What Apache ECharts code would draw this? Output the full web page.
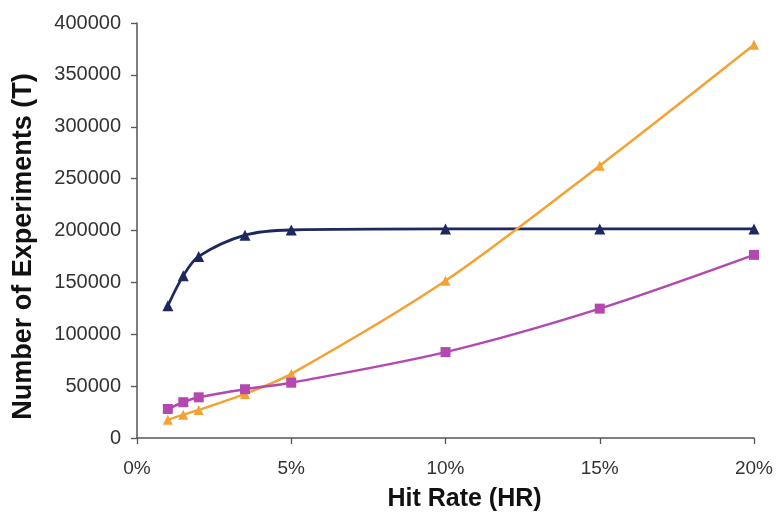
<!DOCTYPE html>
<html>
<head>
<meta charset="utf-8">
<script src="https://cdn.jsdelivr.net/npm/echarts@6/dist/echarts.min.js"></script>
<style>html,body{margin:0;padding:0;background:#fff;}#c{width:778px;height:516px;}</style>
</head>
<body>
<div id="c"></div>
<script>
const hitRates = [1, 1.5, 2, 3.5, 5, 10, 15, 20];
const navySeries = [127500, 156500, 175000, 195500, 200500, 201500, 201500, 201500];
const orangeSeries = [17500, 22500, 27000, 42500, 61800, 151500, 262500, 379000];
const magentaSeries = [28000, 34500, 39200, 47000, 53300, 82800, 124700, 176500];
const yTicks = [0, 50000, 100000, 150000, 200000, 250000, 300000, 350000, 400000];
const xTicks = [0, 5, 10, 15, 20];

const pairs = v => hitRates.map((x, i) => [x, v[i]]);
const chart = echarts.init(document.getElementById('c'));
const font = 'Liberation Sans, Arial, sans-serif';
chart.setOption({
  animation: false,
  grid: {left: 137, right: 24, top: 23, bottom: 78, containLabel: false, outerBoundsMode: 'none'},
  xAxis: {
    type: 'value', min: xTicks[0], max: xTicks[xTicks.length - 1], interval: 5,
    name: 'Hit Rate (HR)', nameLocation: 'middle', nameGap: 49,
    nameTextStyle: {fontFamily: font, fontSize: 25, fontWeight: 'bold', color: '#111', padding: [0, 0, 0, 38]},
    axisLine: {lineStyle: {color: '#555', width: 1.5}},
    axisTick: {show: true, length: 6, inside: false, lineStyle: {color: '#555', width: 1.3}},
    axisLabel: {formatter: '{value}%', fontFamily: font, fontSize: 19, color: '#333', margin: 21},
    splitLine: {show: false}
  },
  yAxis: {
    type: 'value', min: yTicks[0], max: yTicks[yTicks.length - 1], interval: 50000,
    name: 'Number of Experiments (T)', nameLocation: 'middle', nameGap: 100,
    nameTextStyle: {fontFamily: font, fontSize: 27, fontWeight: 'bold', color: '#111', padding: [0, 32, 0, 0]},
    axisLine: {show: true, lineStyle: {color: '#555', width: 1.5}},
    axisTick: {show: true, length: 6, lineStyle: {color: '#555', width: 1.3}},
    axisLabel: {formatter: v => String(v), fontFamily: font, fontSize: 20, color: '#333', margin: 16},
    splitLine: {show: false}
  },
  series: [
    {type: 'line', data: pairs(navySeries), smooth: 0.3, symbol: 'triangle', symbolSize: 11,
     lineStyle: {color: '#1d2760', width: 2.8}, itemStyle: {color: '#1d2760'}},
    {type: 'line', data: pairs(orangeSeries), smooth: 0.3, symbol: 'triangle', symbolSize: 10,
     lineStyle: {color: '#f4a233', width: 2.5}, itemStyle: {color: '#f4a233'}},
    {type: 'line', data: pairs(magentaSeries), smooth: 0.3, symbol: 'rect', symbolSize: 10,
     lineStyle: {color: '#b348b0', width: 2.5}, itemStyle: {color: '#b348b0'}}
  ]
});
</script>
</body>
</html>
